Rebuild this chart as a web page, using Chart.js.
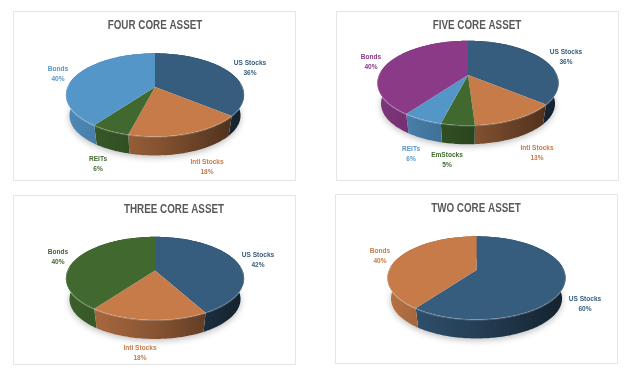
<!DOCTYPE html>
<html>
<head>
<meta charset="utf-8">
<title>Core asset allocations</title>
<script src="https://cdn.jsdelivr.net/npm/chart.js@4/dist/chart.umd.js"></script>
<style>
  html, body { margin: 0; padding: 0; background: #fff; }
  body { width: 630px; height: 377px; position: relative; overflow: hidden; }
  .panel { position: absolute; box-sizing: border-box; width: 283px; height: 170px; border: 1px solid #e6e6e6; background: #fff; }
  .panel canvas { display: block; filter: blur(0.4px); }
</style>
</head>
<body>
<div class="panel" style="left:13px; top:11px"><canvas id="four" width="281" height="168"></canvas></div>
<div class="panel" style="left:336px; top:11px"><canvas id="five" width="281" height="168"></canvas></div>
<div class="panel" style="left:13px; top:195px"><canvas id="three" width="281" height="168"></canvas></div>
<div class="panel" style="left:335px; top:194px"><canvas id="two" width="281" height="168"></canvas></div>
<script>
const NAVY = '#365d7e', ORANGE = '#c67b49', GREEN = '#41682f', BLUE = '#5596c9', PURPLE = '#8a3a87';

const fourLabels = ['US Stocks', 'Intl Stocks', 'REITs', 'Bonds'];
const fourValues = [36, 18, 6, 40];
const fourColors = [NAVY, ORANGE, GREEN, BLUE];

const fiveLabels = ['US Stocks', 'Intl Stocks', 'EmStocks', 'REITs', 'Bonds'];
const fiveValues = [36, 13, 5, 6, 40];
const fiveColors = [NAVY, ORANGE, GREEN, BLUE, PURPLE];

const threeLabels = ['US Stocks', 'Intl Stocks', 'Bonds'];
const threeValues = [42, 18, 40];
const threeColors = [NAVY, ORANGE, GREEN];

const twoLabels = ['US Stocks', 'Bonds'];
const twoValues = [60, 40];
const twoColors = [NAVY, ORANGE];

// draws the pie arcs with a tilted, perspective look instead of flat circles
function project(el, t, drop, scale) {
  const w = 1 - 0.19 * Math.sin(t);
  const r = el.outerRadius * (scale || 1);
  return {
    x: el.x + r * Math.cos(t) / w,
    y: el.y + r * Math.sin(t) * 0.458 / w + (drop || 0)
  };
}

function arcPoints(el, from, to, drop, scale) {
  const n = Math.max(2, Math.ceil((to - from) / 0.02));
  const pts = [];
  for (let i = 0; i <= n; i++) pts.push(project(el, from + (to - from) * i / n, drop, scale));
  return pts;
}

function shade(hex, f) {
  const c = parseInt(hex.slice(1), 16);
  return `rgb(${Math.round((c >> 16) * f)},${Math.round(((c >> 8) & 255) * f)},${Math.round((c & 255) * f)})`;
}

// no narrow font is installed, so squeeze the text sideways
function narrowText(ctx, text, x, y) {
  ctx.save();
  ctx.translate(x, y);
  ctx.scale(0.82, 1);
  ctx.fillText(text, 0, 0);
  ctx.restore();
}

const pie3d = {
  id: 'pie3d',
  beforeDatasetsDraw(chart, args, opts) {
    const ctx = chart.ctx;
    const arcs = chart.getDatasetMeta(0).data;
    const first = arcs[0];
    const left = first.x - first.outerRadius * 1.02, right = first.x + first.outerRadius * 1.02;
    const d = opts.depth, s = opts.lowScale;

    // soft shadow under the disc
    ctx.save();
    ctx.shadowColor = 'rgba(0,0,0,0.25)';
    ctx.shadowBlur = 6;
    ctx.shadowOffsetY = 2;
    ctx.fillStyle = '#fff';
    ctx.beginPath();
    arcPoints(first, 0, Math.PI * 2, d, s).forEach((p, i) => i ? ctx.lineTo(p.x, p.y) : ctx.moveTo(p.x, p.y));
    ctx.closePath();
    ctx.fill();
    ctx.restore();

    // side walls
    arcs.forEach(el => {
      const col = el.options.backgroundColor;
      const g = ctx.createLinearGradient(left, 0, right, 0);
      g.addColorStop(0, shade(col, 0.92));
      g.addColorStop(0.5, shade(col, 0.68));
      g.addColorStop(1, shade(col, 0.36));
      const topEdge = arcPoints(el, el.startAngle, el.endAngle, 0);
      const lowEdge = arcPoints(el, el.startAngle, el.endAngle, d, s).reverse();
      ctx.fillStyle = g;
      ctx.beginPath();
      topEdge.concat(lowEdge).forEach((p, i) => i ? ctx.lineTo(p.x, p.y) : ctx.moveTo(p.x, p.y));
      ctx.closePath();
      ctx.fill();
    });

    // top faces
    arcs.forEach(el => {
      ctx.fillStyle = el.options.backgroundColor;
      ctx.beginPath();
      ctx.moveTo(el.x, el.y);
      arcPoints(el, el.startAngle, el.endAngle, 0).forEach(p => ctx.lineTo(p.x, p.y));
      ctx.closePath();
      ctx.fill();
    });

    // lighter rim along the near edge
    arcs.forEach(el => {
      const from = Math.max(el.startAngle, -0.1), to = Math.min(el.endAngle, Math.PI + 0.1);
      if (to <= from) return;
      ctx.strokeStyle = 'rgba(255,255,255,0.2)';
      ctx.lineWidth = 1.5;
      ctx.beginPath();
      arcPoints(el, from, to, 0.4).forEach((p, i) => i ? ctx.lineTo(p.x, p.y) : ctx.moveTo(p.x, p.y));
      ctx.stroke();
    });
    return false;
  },
  afterDraw(chart, args, opts) {
    const ctx = chart.ctx;
    ctx.save();
    ctx.textAlign = 'center';
    ctx.textBaseline = 'middle';
    ctx.fillStyle = '#595959';
    ctx.font = 'bold 12px "Liberation Sans"';
    narrowText(ctx, opts.heading, opts.headingX, 14);

    const labels = chart.data.labels, values = chart.data.datasets[0].data;
    const colors = chart.data.datasets[0].backgroundColor;
    ctx.font = 'bold 8px "Liberation Sans"';
    labels.forEach((name, i) => {
      const pos = opts.labelPos[i];
      ctx.fillStyle = colors[i];
      narrowText(ctx, name, pos[0], pos[1]);
      narrowText(ctx, values[i] + '%', pos[0], pos[1] + 10);
    });
    ctx.restore();
  }
};

function buildPie(id, labels, values, colors, heading, headingX, padding, radius, labelPos) {
  new Chart(document.getElementById(id), {
    type: 'pie',
    data: {
      labels,
      datasets: [{ data: values, backgroundColor: colors, borderWidth: 0, radius }]
    },
    options: {
      responsive: false,
      animation: false,
      events: [],
      layout: { padding },
      plugins: {
        legend: { display: false },
        title: { display: false },
        tooltip: { enabled: false },
        pie3d: { depth: 21, lowScale: 0.96, heading, headingX, labelPos }
      }
    },
    plugins: [pie3d]
  });
}

// label anchors are relative to each panel's canvas
buildPie('four', fourLabels, fourValues, fourColors, 'FOUR CORE ASSET', 141,
  { left: 1, bottom: 18 }, 87.5,
  [[236, 51], [193, 150], [84, 147], [44, 57]]);

buildPie('five', fiveLabels, fiveValues, fiveColors, 'FIVE CORE ASSET', 140,
  { right: 19, bottom: 42 }, 89,
  [[229, 40], [200, 136], [110, 143], [74, 137], [34, 45]]);

buildPie('three', threeLabels, threeValues, threeColors, 'THREE CORE ASSET', 160,
  { left: 1, bottom: 19 }, 87.5,
  [[244, 59], [126, 152], [44, 56]]);

buildPie('two', twoLabels, twoValues, twoColors, 'TWO CORE ASSET', 140,
  { bottom: 18 }, 87.5,
  [[249, 104], [44, 56]]);
</script>
</body>
</html>
